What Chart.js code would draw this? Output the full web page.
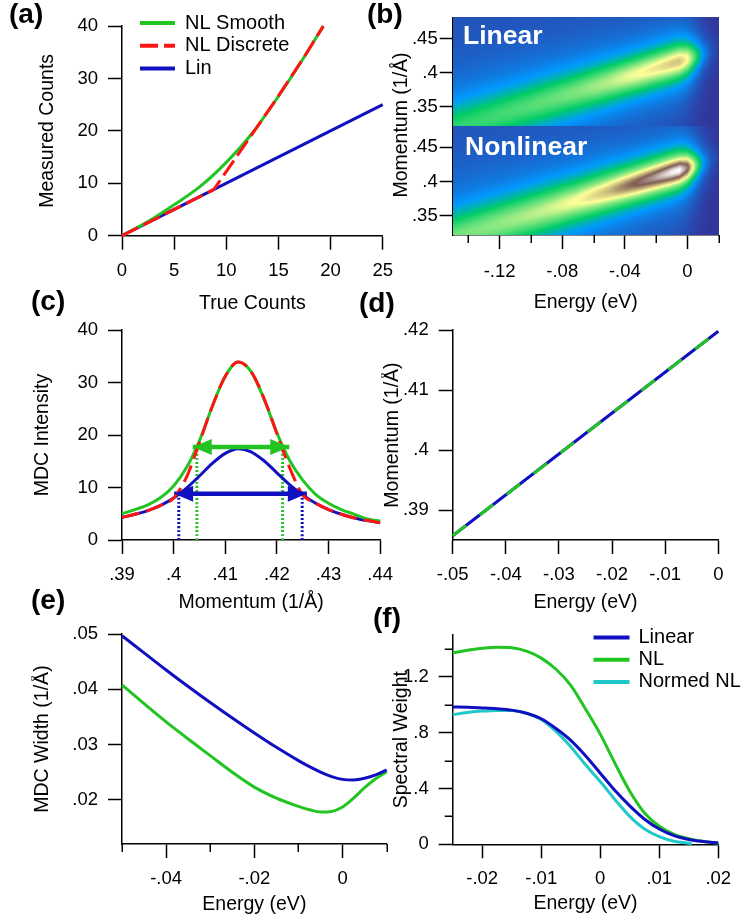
<!DOCTYPE html>
<html lang="en">
  <head>
    <meta charset="UTF-8" />
    <title>Detector nonlinearity and spectral weight</title>
    <style>
      body {
        margin: 0;
        background: #fff;
        font-family: "Liberation Sans", Arial, sans-serif;
      }
      #fig {
        position: relative;
        width: 743px;
        height: 924px;
        overflow: hidden;
      }
      canvas {
        position: absolute;
      }
      .tag {
        position: absolute;
        font-weight: bold;
        font-size: 28px;
        line-height: 32px;
        color: #000;
      }
      .inset {
        position: absolute;
        font-weight: bold;
        font-size: 26.5px;
        line-height: 26.5px;
        color: #fff;
      }
      .ytitle {
        position: absolute;
        font-size: 19.5px;
        white-space: nowrap;
        transform: translate(-50%, -50%) rotate(-90deg);
      }
    </style>
  </head>

  <body>
    <div id="fig">
      <canvas id="chartA"></canvas>
      <canvas id="chartB"></canvas>
      <canvas id="chartC"></canvas>
      <canvas id="chartD"></canvas>
      <canvas id="chartE"></canvas>
      <canvas id="chartF"></canvas>

      <div class="tag" style="left:9px;top:-2px">(a)</div>
      <div class="tag" style="left:367px;top:-2px">(b)</div>
      <div class="tag" style="left:31px;top:285px">(c)</div>
      <div class="tag" style="left:359px;top:287px">(d)</div>
      <div class="tag" style="left:31px;top:584px">(e)</div>
      <div class="tag" style="left:373px;top:602px">(f)</div>

      <div class="inset" style="left:463px;top:22px">Linear</div>
      <div class="inset" style="left:465px;top:133px">Nonlinear</div>
      <div class="ytitle" style="left:400px;top:125px">Momentum (1/Å)</div>
    </div>

    <script src="https://cdn.jsdelivr.net/npm/chart.js"></script>
    <script>
      // (a) detector response
      const aTrue = [0, 2.5, 5, 7.5, 10, 12.5, 15, 17.5, 19.3];
      const aNLSmooth = [0, 2.7, 5.9, 9.4, 14.0, 19.6, 26.6, 34.2, 40];
      const aDiscreteTrue = [0, 8.8, 14.5, 17.5, 19.3];
      const aNLDiscrete = [0, 8.8, 25.2, 34.2, 40];
      const aLinTrue = [0, 25];
      const aLin = [0, 25];
      const aTicksX = [0, 5, 10, 15, 20, 25];
      const aTicksY = [0, 10, 20, 30, 40];

      // (b) spectral function, per energy column
      const bEnergy = [-0.15, -0.13, -0.11, -0.09, -0.07, -0.05, -0.04, -0.03, -0.02, -0.01, -0.005, 0, 0.005, 0.01, 0.015, 0.02];
      const bPeakK = [0.3175, 0.3311, 0.3448, 0.3584, 0.3721, 0.3857, 0.3925, 0.3993, 0.4062, 0.413, 0.4164, 0.4198, 0.4232, 0.4266, 0.43, 0.4334];
      const bHalfWidth = [0.038, 0.037, 0.035, 0.033, 0.03, 0.027, 0.025, 0.024, 0.023, 0.022, 0.0215, 0.021, 0.021, 0.021, 0.021, 0.021];
      const bPeakCounts = [6.2, 6.5, 6.95, 7.5, 8.3, 9.65, 10.7, 11.55, 12.4, 13.5, 13.8, 12.0, 7.45, 3.33, 1.28, 0.4];
      const bBackground = [0.8, 0.78, 0.75, 0.72, 0.7, 0.65, 0.6, 0.55, 0.5, 0.4, 0.3, 0.22, 0.13, 0.06, 0.02, 0];
      const bColorMax = 24;
      const bTicksX = [-0.12, -0.08, -0.04, 0];
      const bMinorX = [-0.14, -0.1, -0.06, -0.02, 0.02];
      const bTicksK = [0.35, 0.4, 0.45];

      // (c) MDCs
      const cMomentum = [0.39, 0.3925, 0.395, 0.3975, 0.4, 0.4025, 0.405, 0.4075, 0.41, 0.4125, 0.415, 0.4175, 0.42, 0.4225, 0.425, 0.4275, 0.43, 0.4325, 0.435, 0.4375, 0.44];
      const cLin = [4.3, 4.9, 5.6, 6.6, 8.0, 9.9, 12.2, 14.6, 16.5, 17.4, 16.8, 15.1, 12.8, 10.5, 8.6, 7.0, 5.8, 4.9, 4.2, 3.7, 3.3];
      const cNLSmooth = [5.0, 5.8, 6.7, 8.1, 10.3, 13.8, 18.9, 25.5, 31.2, 33.9, 32.1, 26.9, 20.4, 15.1, 11.4, 8.7, 7.0, 5.8, 4.9, 4.0, 3.6];
      const cNLDiscrete = [4.3, 4.9, 5.6, 6.6, 8.0, 12.0, 18.6, 25.5, 31.2, 33.9, 32.1, 27.0, 20.3, 13.7, 8.6, 7.0, 5.8, 4.9, 4.2, 3.7, 3.3];
      const cNLWidthEdges = [0.4037, 0.4224];
      const cNLWidthMarks = [0.4045, 0.4211];
      const cNLWidthLevel = 17.7;
      const cLinWidthEdges = [0.4001, 0.4258];
      const cLinWidthMarks = [0.401, 0.4249];
      const cLinWidthLevel = 8.8;
      const cTicksX = [0.39, 0.4, 0.41, 0.42, 0.43, 0.44];
      const cTicksY = [0, 10, 20, 30, 40];

      // (d) MDC peak position
      const dEnergy = [-0.05, 0];
      const dPeakLin = [0.3857, 0.4198];
      const dPeakNL = [0.3857, 0.4198];
      const dTicksX = [-0.05, -0.04, -0.03, -0.02, -0.01, 0];
      const dTicksY = [0.39, 0.4, 0.41, 0.42];

      // (e) MDC width
      const eEnergy = [-0.05, -0.045, -0.04, -0.035, -0.03, -0.025, -0.02, -0.015, -0.01, -0.0075, -0.005, -0.0025, 0, 0.0025, 0.005, 0.0075, 0.01];
      const eLin = [0.0497, 0.0466, 0.0435, 0.0405, 0.0376, 0.0348, 0.0321, 0.0295, 0.0271, 0.026, 0.025, 0.0242, 0.0237, 0.0236, 0.0239, 0.0245, 0.0254];
      const eNL = [0.0408, 0.0374, 0.0341, 0.031, 0.028, 0.025, 0.0223, 0.0203, 0.0188, 0.0182, 0.0178, 0.0179, 0.0187, 0.0203, 0.0222, 0.0238, 0.0251];
      const eTicksX = [-0.04, -0.02, 0];
      const eMinorX = [-0.05, -0.03, -0.01, 0.01];
      const eTicksY = [0.02, 0.03, 0.04, 0.05];

      // (f) spectral weight
      const fEnergy = [-0.025, -0.0225, -0.02, -0.0175, -0.015, -0.0125, -0.01, -0.0075, -0.005, -0.0025, 0, 0.0025, 0.005, 0.0075, 0.01, 0.0125, 0.015, 0.0175, 0.02];
      const fLin = [0.985, 0.983, 0.978, 0.972, 0.962, 0.94, 0.9, 0.83, 0.745, 0.635, 0.51, 0.385, 0.275, 0.18, 0.11, 0.062, 0.035, 0.02, 0.01];
      const fNL = [1.372, 1.392, 1.405, 1.413, 1.41, 1.385, 1.335, 1.255, 1.14, 0.97, 0.79, 0.58, 0.38, 0.225, 0.13, 0.072, 0.04, 0.02, 0.008];
      const fNormedEnergy = [-0.025, -0.0225, -0.02, -0.0175, -0.015, -0.0125, -0.01, -0.0075, -0.005, -0.0025, 0, 0.0025, 0.005, 0.0075, 0.01, 0.0125, 0.015, 0.0155];
      const fNormed = [0.93, 0.945, 0.955, 0.96, 0.96, 0.94, 0.895, 0.81, 0.7, 0.57, 0.45, 0.32, 0.2, 0.11, 0.055, 0.022, 0.007, 0.003];
      const fTicksX = [-0.02, -0.01, 0, 0.01, 0.02];
      const fTicksY = [0, 0.4, 0.8, 1.2];
      const fMinorY = [0.2, 0.6, 1.0, 1.4];

      const BLUE = "#1010c0";
      const GREEN = "#22c422";
      const RED = "#ff1414";
      const CYAN = "#20c8c8";
      const FONT = '"Liberation Sans", Arial, sans-serif';

      Chart.defaults.font.family = FONT;
      Chart.defaults.color = "#000";

      const pts = (xs, ys) => xs.map((x, i) => ({ x: x, y: ys[i] }));
      const fmt = (v) => String(Math.round(v * 1e6) / 1e6).replace(/^(-?)0\./, "$1.");

      function lookup(xs, ys, v) {
        if (v <= xs[0]) return ys[0];
        for (let i = 1; i < xs.length; i++) {
          if (v <= xs[i]) {
            const t = (v - xs[i - 1]) / (xs[i] - xs[i - 1]);
            return ys[i - 1] + t * (ys[i] - ys[i - 1]);
          }
        }
        return ys[ys.length - 1];
      }

      // position a canvas so that its plot frame lands on box = [left, top, right, bottom]
      function mount(id, box, yW, xH, spare) {
        const c = document.getElementById(id);
        const left = Math.floor(box[0] - yW);
        const top = Math.floor(box[1] - 14);
        const width = Math.ceil(box[2] + (spare || 16) - left);
        const height = Math.ceil(box[3] + xH - top);
        c.width = width;
        c.height = height;
        c.style.left = left + "px";
        c.style.top = top + "px";
        c.style.width = width + "px";
        c.style.height = height + "px";
        return {
          canvas: c,
          yW: box[0] - left,
          xH: top + height - box[3],
          padding: { left: 0, top: box[1] - top, right: left + width - box[2], bottom: 0 },
        };
      }

      function axis(pos, min, max, ticks, title, size, extra) {
        const o = extra || {};
        return Object.assign(
          {
            type: "linear",
            position: pos,
            axis: pos === "left" ? "y" : "x",
            min: min,
            max: max,
            border: { color: "#000", width: 1.5 },
            grid: { drawOnChartArea: false, tickLength: o.tick || 14, tickColor: "#000", tickWidth: 1.5 },
            ticks: {
              font: { size: 18.5 },
              color: "#000",
              padding: o.pad !== undefined ? o.pad : 10,
              autoSkip: false,
              maxRotation: 0,
              callback: (v) => fmt(v),
            },
            title: { display: !!title, text: title, font: { size: 19.5 }, color: "#000", padding: 0 },
            afterBuildTicks: (s) => {
              s.ticks = ticks.map((v) => ({ value: v }));
            },
            afterFit: (s) => {
              if (pos === "left") s.width = size;
              else s.height = size;
            },
          },
          o.more || {}
        );
      }

      // short unlabeled ticks between the labeled ones
      const minorTicks = {
        id: "minorTicks",
        afterDraw(chart, args, o) {
          const ctx = chart.ctx;
          ctx.save();
          ctx.strokeStyle = "#000";
          ctx.lineWidth = 1.5;
          (o.x || []).forEach((v) => {
            const s = chart.scales.x;
            const px = Math.round(s.getPixelForValue(v)) + 0.25;
            ctx.beginPath();
            ctx.moveTo(px, s.top);
            ctx.lineTo(px, s.top + o.len);
            ctx.stroke();
          });
          (o.y || []).forEach((v) => {
            const s = chart.scales.y;
            const py = Math.round(s.getPixelForValue(v)) + 0.25;
            ctx.beginPath();
            ctx.moveTo(s.right, py);
            ctx.lineTo(s.right - o.len, py);
            ctx.stroke();
          });
          ctx.restore();
        },
      };

      // legend drawn inside the plot, rows follow dataset order
      const inLegend = {
        id: "inLegend",
        afterDatasetsDraw(chart, args, o) {
          const { ctx, chartArea } = chart;
          ctx.save();
          ctx.font = o.size + "px " + FONT;
          ctx.textBaseline = "middle";
          ctx.fillStyle = "#000";
          chart.data.datasets.forEach((d, i) => {
            if (!d.label) return;
            const x = chartArea.left + o.left;
            const y = chartArea.top + o.top + i * o.step;
            ctx.strokeStyle = d.borderColor;
            ctx.lineWidth = 4;
            ctx.setLineDash(d.borderDash || []);
            ctx.beginPath();
            ctx.moveTo(x, y);
            ctx.lineTo(x + o.len, y);
            ctx.stroke();
            ctx.setLineDash([]);
            ctx.fillText(d.label, x + o.len + o.gap, y);
          });
          ctx.restore();
        },
      };

      // filled heads at both ends of datasets flagged as arrows
      const arrowHeads = {
        id: "arrowHeads",
        afterDatasetsDraw(chart) {
          const ctx = chart.ctx;
          ctx.save();
          chart.data.datasets.forEach((d, i) => {
            if (!d.arrow) return;
            const p = chart.getDatasetMeta(i).data;
            [[p[0], -1], [p[p.length - 1], 1]].forEach(([q, dir]) => {
              ctx.beginPath();
              ctx.moveTo(q.x, q.y);
              ctx.lineTo(q.x - dir * 19, q.y - 8);
              ctx.lineTo(q.x - dir * 19, q.y + 8);
              ctx.closePath();
              ctx.fillStyle = d.borderColor;
              ctx.fill();
            });
          });
          ctx.restore();
        },
      };

      // terrain colour table
      const terrainStops = [
        [0.0, 51, 51, 153],
        [0.15, 0, 153, 255],
        [0.25, 0, 204, 102],
        [0.5, 255, 255, 153],
        [0.75, 128, 92, 84],
        [1.0, 255, 255, 255],
      ];
      function terrain(t) {
        t = Math.max(0, Math.min(1, t));
        for (let i = 1; i < terrainStops.length; i++) {
          const a = terrainStops[i - 1], b = terrainStops[i];
          if (t <= b[0]) {
            const f = (t - a[0]) / (b[0] - a[0]);
            return [a[1] + f * (b[1] - a[1]), a[2] + f * (b[2] - a[2]), a[3] + f * (b[3] - a[3])];
          }
        }
        return [255, 255, 255];
      }

      // image panels: raw counts on top, counts passed through the smooth response below
      const heatmap = {
        id: "heatmap",
        beforeDatasetsDraw(chart) {
          const { ctx, chartArea, scales } = chart;
          const panels = [scales.yLin, scales.yNL].sort((p, q) => p.top - q.top);
          const maps = [(c) => c, (c) => lookup(aTrue, aNLSmooth, c)];
          const left = Math.round(chartArea.left);
          const w = Math.round(chartArea.right) - left;
          panels.forEach((s, n) => {
            const top = Math.round(s.top);
            const h = Math.round(s.bottom) - top;
            const off = document.createElement("canvas");
            off.width = w;
            off.height = h;
            const octx = off.getContext("2d");
            const img = octx.createImageData(w, h);
            for (let i = 0; i < w; i++) {
              const e = scales.x.getValueForPixel(left + i + 0.5);
              const k0 = lookup(bEnergy, bPeakK, e);
              const hw = lookup(bEnergy, bHalfWidth, e);
              const amp = lookup(bEnergy, bPeakCounts, e);
              const bg = lookup(bEnergy, bBackground, e);
              for (let j = 0; j < h; j++) {
                const k = s.getValueForPixel(top + j + 0.5);
                const u = (k - k0) / hw;
                const col = terrain(maps[n](bg + amp / (1 + u * u)) / bColorMax);
                const p = (j * w + i) * 4;
                img.data[p] = col[0];
                img.data[p + 1] = col[1];
                img.data[p + 2] = col[2];
                img.data[p + 3] = 255;
              }
            }
            octx.putImageData(img, 0, 0);
            ctx.drawImage(off, left, top);
          });
        },
      };

      function panel(m, datasets, scales, plugins, opts) {
        return new Chart(m.canvas, {
          type: "line",
          data: { datasets: datasets },
          options: {
            responsive: false,
            animation: false,
            events: [],
            layout: { padding: m.padding },
            scales: scales,
            plugins: Object.assign({ legend: { display: false }, tooltip: { enabled: false } }, opts || {}),
            elements: {
              point: { radius: 0 },
              line: { borderWidth: 3, cubicInterpolationMode: "monotone" },
            },
          },
          plugins: plugins,
        });
      }

      // (a)
      const mA = mount("chartA", [122, 19, 386.7, 235.7], 85.7, 79.3);
      panel(
        mA,
        [
          { label: "NL Smooth", data: pts(aTrue, aNLSmooth), borderColor: GREEN, order: 1, clip: false },
          { label: "NL Discrete", data: pts(aDiscreteTrue, aNLDiscrete), borderColor: RED, borderDash: [18, 6], cubicInterpolationMode: "default", order: 0, clip: false },
          { label: "Lin", data: pts(aLinTrue, aLin), borderColor: BLUE, order: 2, clip: false },
        ],
        {
          x: axis("bottom", 0, 25, aTicksX, "True Counts", mA.xH),
          y: axis("left", 0, 40, aTicksY, "Measured Counts", mA.yW),
        },
        [inLegend],
        { inLegend: { left: 18, top: -3, step: 22.7, len: 35, gap: 10, size: 20 } }
      );

      // (b)
      const mB = mount("chartB", [452.7, 17.3, 718.7, 235], 50, 78.7);
      const kAxis = () =>
        axis("left", 0.3215, 0.481, bTicksK, "", mB.yW, { tick: 13, pad: 2, more: { stack: "k", stackWeight: 1 } });
      panel(
        mB,
        [],
        {
          x: axis("bottom", -0.15, 0.02, bTicksX, "Energy (eV)", mB.xH, { pad: 12 }),
          yNL: kAxis(),
          yLin: kAxis(),
        },
        [heatmap, minorTicks],
        { minorTicks: { x: bMinorX, len: 8 } }
      );

      // (c)
      const mC = mount("chartC", [122, 323.3, 386.7, 540], 90.7, 73.4);
      panel(
        mC,
        [
          { data: pts(cMomentum, cLin), borderColor: BLUE, order: 3, clip: false },
          { data: pts(cMomentum, cNLSmooth), borderColor: GREEN, order: 2, clip: false },
          { data: pts(cMomentum, cNLDiscrete), borderColor: RED, borderDash: [18, 7], order: 0, clip: false },
          { data: pts(cNLWidthEdges, [cNLWidthLevel, cNLWidthLevel]), borderColor: GREEN, borderWidth: 4.5, arrow: true, order: 1 },
          { data: pts(cLinWidthEdges, [cLinWidthLevel, cLinWidthLevel]), borderColor: BLUE, borderWidth: 4.5, arrow: true, order: 1 },
          { data: pts([cNLWidthMarks[0], cNLWidthMarks[0]], [0, cNLWidthLevel - 0.3]), borderColor: GREEN, borderDash: [2, 2], order: 4 },
          { data: pts([cNLWidthMarks[1], cNLWidthMarks[1]], [0, cNLWidthLevel - 0.3]), borderColor: GREEN, borderDash: [2, 2], order: 4 },
          { data: pts([cLinWidthMarks[0], cLinWidthMarks[0]], [0, cLinWidthLevel - 0.3]), borderColor: BLUE, borderDash: [2, 2], order: 4 },
          { data: pts([cLinWidthMarks[1], cLinWidthMarks[1]], [0, cLinWidthLevel - 0.3]), borderColor: BLUE, borderDash: [2, 2], order: 4 },
        ],
        {
          x: axis("bottom", 0.39, 0.44, cTicksX, "Momentum (1/Å)", mC.xH),
          y: axis("left", 0, 40, cTicksY, "MDC Intensity", mC.yW),
        },
        [arrowHeads]
      );

      // (d)
      const mD = mount("chartD", [452.7, 323.3, 718.3, 540], 71.4, 73.4);
      panel(
        mD,
        [
          { data: pts(dEnergy, dPeakLin), borderColor: BLUE, order: 1, clip: false },
          { data: pts(dEnergy, dPeakNL), borderColor: GREEN, borderDash: [17, 17], order: 0, clip: false },
        ],
        {
          x: axis("bottom", -0.05, 0, dTicksX, "Energy (eV)", mD.xH),
          y: axis("left", 0.385, 0.42, dTicksY, "Momentum (1/Å)", mD.yW),
        },
        []
      );

      // (e)
      const mE = mount("chartE", [122, 627.7, 386.7, 844], 90.7, 71.7);
      panel(
        mE,
        [
          { data: pts(eEnergy, eLin), borderColor: BLUE, order: 0, clip: false },
          { data: pts(eEnergy, eNL), borderColor: GREEN, order: 1, clip: false },
        ],
        {
          x: axis("bottom", -0.05, 0.01, eTicksX, "Energy (eV)", mE.xH),
          y: axis("left", 0.012, 0.05, eTicksY, "MDC Width (1/Å)", mE.yW),
        },
        [minorTicks],
        { minorTicks: { x: eMinorX, len: 8 } }
      );

      // (f)
      const mF = mount("chartF", [452.7, 628.3, 718.3, 844.3], 62.7, 70.4, 25);
      panel(
        mF,
        [
          { label: "Linear", data: pts(fEnergy, fLin), borderColor: BLUE, order: 0, clip: false },
          { label: "NL", data: pts(fEnergy, fNL), borderColor: GREEN, order: 2, clip: false },
          { label: "Normed NL", data: pts(fNormedEnergy, fNormed), borderColor: CYAN, order: 1, clip: false },
        ],
        {
          x: axis("bottom", -0.025, 0.02, fTicksX, "Energy (eV)", mF.xH),
          y: axis("left", 0, 1.5, fTicksY, "Spectral Weight", mF.yW),
        },
        [inLegend, minorTicks],
        {
          inLegend: { left: 140.8, top: 2.4, step: 22.2, len: 36, gap: 9, size: 20 },
          minorTicks: { y: fMinorY, len: 8 },
        }
      );
    </script>
  </body>
</html>
